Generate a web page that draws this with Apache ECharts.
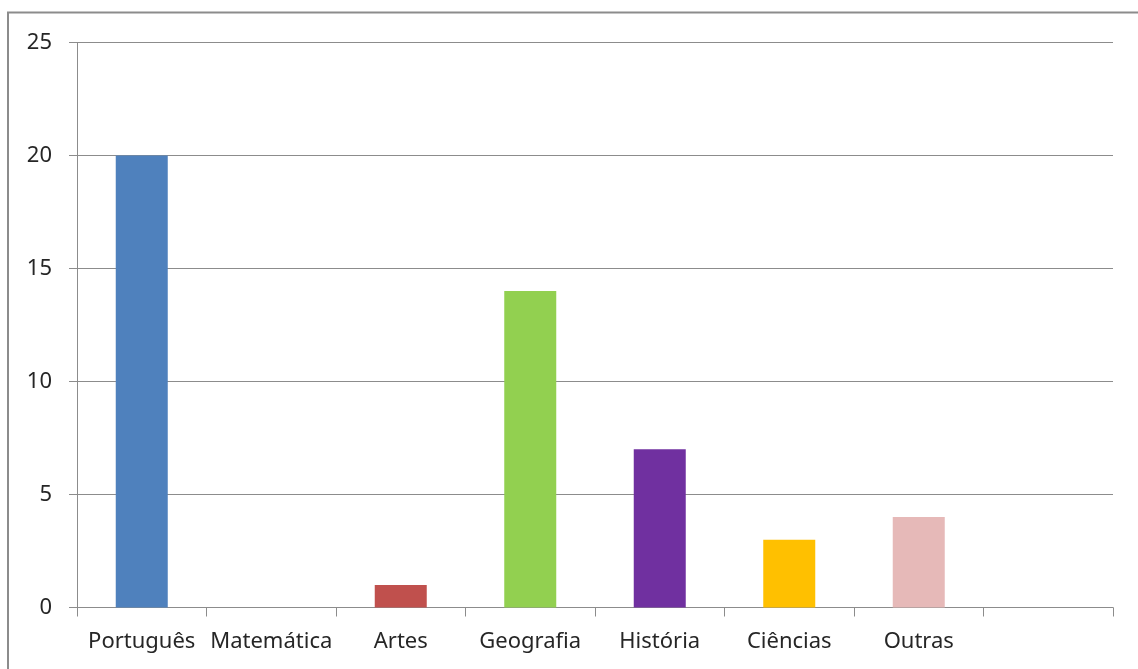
<!DOCTYPE html>
<html>
<head>
<meta charset="utf-8">
<script src="https://cdn.jsdelivr.net/npm/echarts@6/dist/echarts.min.js"></script>
<style>
html,body{margin:0;padding:0;background:#fff;}
#chart{width:1138px;height:669px;}
</style>
</head>
<body>
<div id="chart"></div>
<script>
const categories = ['Português', 'Matemática', 'Artes', 'Geografia', 'História', 'Ciências', 'Outras', ''];
const values = [20, 0, 1, 14, 7, 3, 4, null];
const barColors = ['#4F81BD', '#C0504D', '#C0504D', '#92D050', '#7030A0', '#FFC000', '#E6B9B8', '#4F81BD'];
const yTicks = [0, 5, 10, 15, 20, 25];

const chart = echarts.init(document.getElementById('chart'), null, {renderer: 'canvas'});
const font = '"Noto Sans", "Open Sans", sans-serif';
chart.setOption({
  backgroundColor: '#ffffff',
  animation: false,
  graphic: [{
    type: 'rect',
    shape: {x: 8, y: 12.5, width: 1300, height: 800},
    style: {fill: 'none', stroke: '#8c8c8c', lineWidth: 2},
    silent: true
  }],
  grid: {left: 77, right: 25, top: 42.5, bottom: 61.5, containLabel: false},
  xAxis: {
    type: 'category',
    data: categories,
    boundaryGap: true,
    axisLine: {show: true, lineStyle: {color: '#8c8c8c', width: 1}},
    axisTick: {show: true, length: 9, alignWithLabel: false, lineStyle: {color: '#8c8c8c'}},
    axisLabel: {color: '#262626', fontSize: 22, fontFamily: font, margin: 23, interval: 0}
  },
  yAxis: {
    type: 'value',
    min: yTicks[0],
    max: yTicks[yTicks.length - 1],
    interval: 5,
    axisLine: {show: true, lineStyle: {color: '#8c8c8c', width: 1}},
    axisTick: {show: true, length: 8, lineStyle: {color: '#8c8c8c'}},
    axisLabel: {color: '#262626', fontSize: 22, fontFamily: font, margin: 25},
    splitLine: {show: true, lineStyle: {color: '#8c8c8c', width: 1}}
  },
  series: [{
    type: 'bar',
    barWidth: 52,
    data: values.map((v, i) => ({value: v, itemStyle: {color: barColors[i]}}))
  }]
});
</script>
</body>
</html>
